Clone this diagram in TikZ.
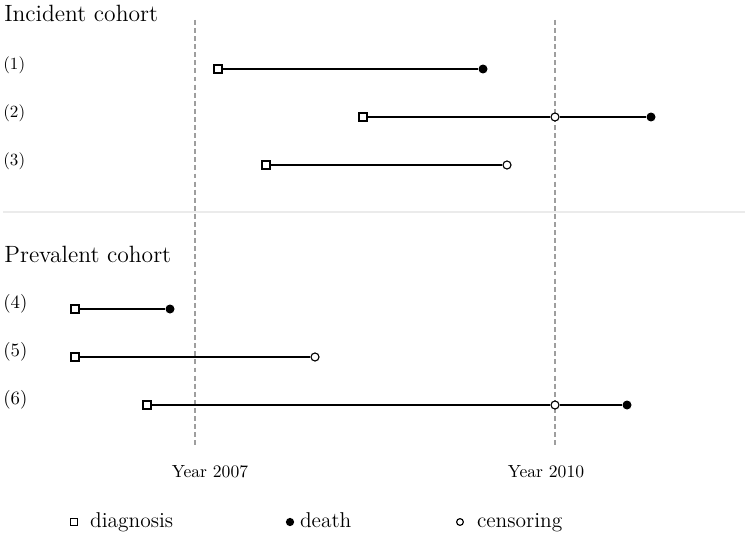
\documentclass[tikz,border=0pt]{standalone}
\usetikzlibrary{positioning}
\begin{document}
\begin{tikzpicture}[
        x=0.02cm, y=-0.02cm,
        diagnosis/.style={rectangle, draw=black, line width=0.65pt, fill=white, inner sep=0pt, minimum size=0.16cm},
        deathmark/.style={circle, fill=black, inner sep=0pt, minimum size=0.18cm},
        censored/.style={circle, draw=black, line width=0.65pt, fill=white, inner sep=0pt, minimum size=0.16cm},
        spell/.style={draw=black, line width=0.85pt},
        yearline/.style={draw=black!38, line width=0.7pt, dash pattern=on 2.8pt off 1.8pt},
        rowlabel/.style={anchor=west, inner sep=0pt},
        title/.style={anchor=base west, inner sep=0pt, font=\fontsize{13.4}{16}\selectfont},
        keytext/.style={inner sep=0pt, font=\fontsize{12.2}{14}\selectfont}
        ]
        \useasboundingbox (0,0) rectangle (750,537);

        % Panel separator and reference years
        \draw[black!8, line width=0.6pt] (3,212) -- (745,212);
        \draw[yearline] (195,20) -- (195,448);
        \draw[yearline] (555,20) -- (555,448);
        \node[font=\fontsize{10}{12}\selectfont] (y2007) at (210,472) {Year 2007};
        \node[font=\fontsize{10}{12}\selectfont] (y2010) at (546,472) {Year 2010};

        % Incident cohort
        \node[title] (inc) at (4,22) {Incident cohort};
        \node[rowlabel, font=\fontsize{9.7}{11}\selectfont] (r1) at (3,65) {(1)};
        \node[rowlabel, font=\fontsize{9.7}{11}\selectfont] (r2) at (3,113) {(2)};
        \node[rowlabel, font=\fontsize{9.7}{11}\selectfont] (r3) at (3,161) {(3)};

        \node[diagnosis] (d1) at (218,69) {};
        \node[deathmark] (e1) at (483,69) {};
        \node[diagnosis] (d2) at (363,117) {};
        \node[censored] (c2) at (555,117) {};
        \node[deathmark] (e2) at (651,117) {};
        \node[diagnosis] (d3) at (266,165) {};
        \node[censored] (c3) at (507,165) {};

        \draw[spell] (d1) -- (e1);
        \draw[spell] (d2) -- (c2);
        \draw[spell] (c2) -- (e2);
        \draw[spell] (d3) -- (c3);

        % Prevalent cohort
        \node[title] (prev) at (4,262) {Prevalent cohort};
        \node[rowlabel, font=\fontsize{10.7}{12}\selectfont] (r4) at (3,304) {(4)};
        \node[rowlabel, font=\fontsize{10.7}{12}\selectfont] (r5) at (3,352) {(5)};
        \node[rowlabel, font=\fontsize{10.7}{12}\selectfont] (r6) at (3,400) {(6)};

        \node[diagnosis] (d4) at (75,309) {};
        \node[deathmark] (e4) at (170,309) {};
        \node[diagnosis] (d5) at (75,357) {};
        \node[censored] (c5) at (315,357) {};
        \node[diagnosis] (d6) at (147,405) {};
        \node[censored] (c6) at (555,405) {};
        \node[deathmark] (e6) at (627,405) {};

        \draw[spell] (d4) -- (e4);
        \draw[spell] (d5) -- (c5);
        \draw[spell] (d6) -- (c6);
        \draw[spell] (c6) -- (e6);

        % Legend
        \node[diagnosis, minimum size=0.145cm] (kd) at (74,522) {};
        \node[keytext, right=9pt of kd.center, anchor=mid west, yshift=-1pt] (kdt) {diagnosis};
        \node[deathmark, minimum size=0.165cm] (ke) at (290,522) {};
        \node[keytext, right=5.5pt of ke.center, anchor=mid west, yshift=-1pt] (ket) {death};
        \node[censored, minimum size=0.135cm] (kc) at (460,522) {};
        \node[keytext, right=9.5pt of kc.center, anchor=mid west, yshift=-1pt] (kct) {censoring};

    \end{tikzpicture}
\end{document}
